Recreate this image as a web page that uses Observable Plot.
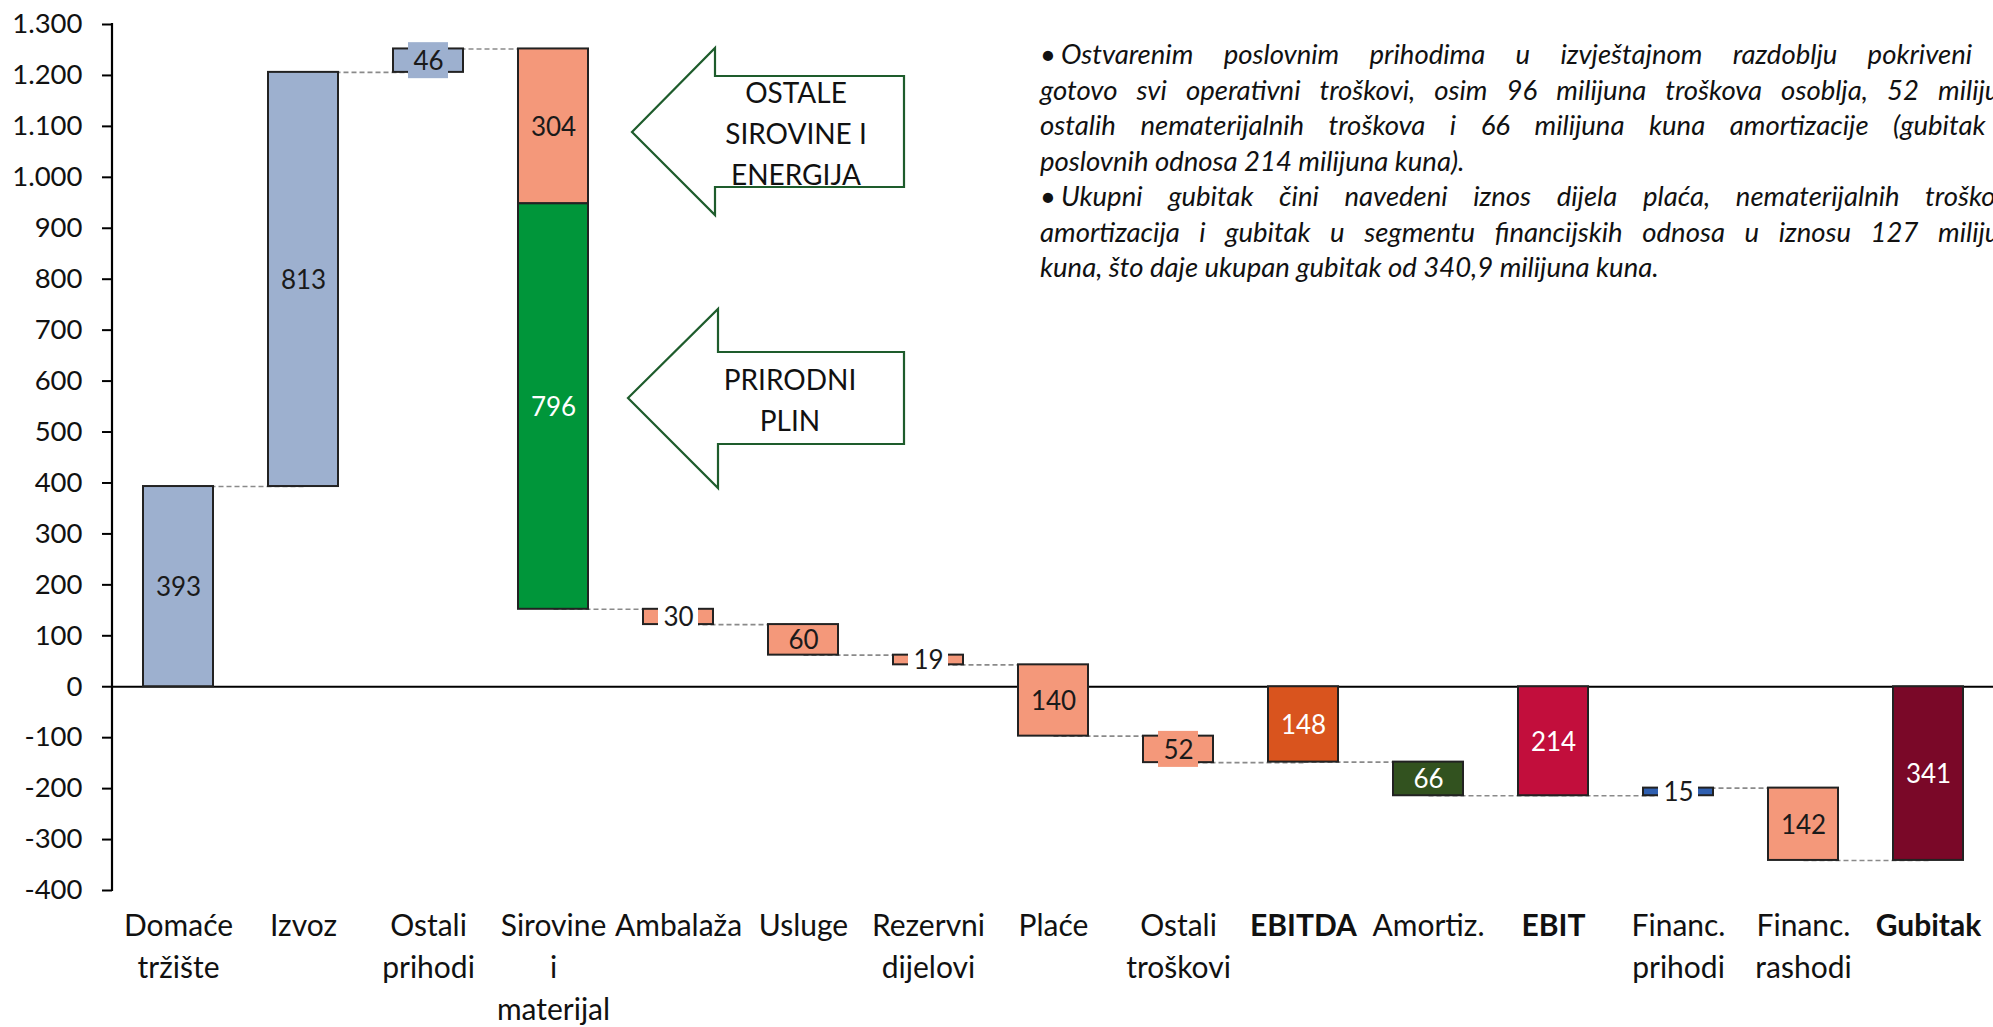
<!DOCTYPE html>
<html>
<head>
<meta charset="utf-8">
<script src="https://cdn.jsdelivr.net/npm/d3@7"></script>
<script src="https://cdn.jsdelivr.net/npm/@observablehq/plot@0.6"></script>
<style>
  html, body { margin: 0; padding: 0; background: #fff; overflow: hidden; }
  #wrap { position: relative; width: 1993px; height: 1027px; overflow: hidden; font-family: Lato, sans-serif; }
  #note { position: absolute; left: 1040px; top: 36px; width: 988px; font-family: Lato, sans-serif; font-style: italic;
          font-size: 27.5px; line-height: 35.5px; color: #111; }
  #note div { text-align: justify; text-align-last: justify; white-space: nowrap; }
  #note div.last { text-align-last: left; }
  #note .bullet { margin-right: 5px; }
  #arrows { position: absolute; left: 0; top: 0; pointer-events: none; }
</style>
</head>
<body>
<div id="wrap">
  <div id="chart"></div>
  <svg id="arrows" width="1993" height="1027"></svg>
  <div id="note"></div>
</div>
<script>
// ---------------- data ----------------
const categories = ["Domaće tržište", "Izvoz", "Ostali prihodi", "Sirovine i materijal", "Ambalaža", "Usluge",
  "Rezervni dijelovi", "Plaće", "Ostali troškovi", "EBITDA", "Amortiz.", "EBIT", "Financ. prihodi",
  "Financ. rashodi", "Gubitak"];
const tickLabels = ["Domaće\ntržište", "Izvoz", "Ostali\nprihodi", "Sirovine\ni\nmaterijal", "Ambalaža", "Usluge",
  "Rezervni\ndijelovi", "Plaće", "Ostali\ntroškovi", "EBITDA", "Amortiz.", "EBIT", "Financ.\nprihodi",
  "Financ.\nrashodi", "Gubitak"];
// change contributed by each step (totals give the running level directly)
const changes = [393, 813, 46, -1100, -30, -60, -19, -140, -52, -148, -66, -214, 15, -142, -341];
const totalCategories = ["EBITDA", "EBIT", "Gubitak"];
// Sirovine i materijal split, top part first
const sirovineParts = ["Ostale sirovine i energija", "Prirodni plin"];
const sirovineValues = [304, 796];
const yTicks = d3.range(-400, 1301, 100);
const noteLines = [
  "• Ostvarenim poslovnim prihodima u izvještajnom razdoblju pokriveni su",
  "gotovo svi operativni troškovi, osim 96 milijuna troškova osoblja, 52 milijuna",
  "ostalih nematerijalnih troškova i 66 milijuna kuna amortizacije  (gubitak iz",
  "poslovnih odnosa 214 milijuna kuna).",
  "• Ukupni gubitak čini navedeni iznos dijela plaća, nematerijalnih troškova,",
  "amortizacija i gubitak u segmentu financijskih odnosa u iznosu 127 milijuna",
  "kuna, što daje ukupan gubitak od 340,9 milijuna kuna."
];
const paragraphEnds = [3, 6];

// ---------------- styles ----------------
const C = { rev: "#9DB0CF", cost: "#F4987A", gas: "#00963A", ebitda: "#D9541E", amort: "#32521F",
            ebit: "#C20E3C", finInc: "#2F5FB0", loss: "#7A0828" };
const fillOf = {
  "Domaće tržište": C.rev, "Izvoz": C.rev, "Ostali prihodi": C.rev, "Ambalaža": C.cost, "Usluge": C.cost,
  "Rezervni dijelovi": C.cost, "Plaće": C.cost, "Ostali troškovi": C.cost, "EBITDA": C.ebitda,
  "Amortiz.": C.amort, "EBIT": C.ebit, "Financ. prihodi": C.finInc, "Financ. rashodi": C.cost, "Gubitak": C.loss,
  "Ostale sirovine i energija": C.cost, "Prirodni plin": C.gas
};
const whiteLabel = new Set(["EBITDA", "Amortiz.", "EBIT", "Gubitak", "Prirodni plin"]);
const boxFill = { "Ostali prihodi": C.rev, "Ambalaža": "#fff", "Rezervni dijelovi": "#fff",
                  "Ostali troškovi": C.cost, "Financ. prihodi": "#fff" };

// ---------------- derived tables ----------------
const bars = [], ends = [];
let level = 0;
categories.forEach((cat, i) => {
  const total = totalCategories.includes(cat);
  const y1 = total ? 0 : level;
  const y2 = total ? changes[i] : level + changes[i];
  level = y2;
  ends.push(y2);
  if (cat === "Sirovine i materijal") {
    let top = y1;
    sirovineParts.forEach((p, j) => {
      bars.push({ cat, key: p, y1: top, y2: top - sirovineValues[j], label: sirovineValues[j] });
      top -= sirovineValues[j];
    });
  } else {
    bars.push({ cat, key: cat, y1, y2, label: Math.abs(changes[i]) });
  }
});
bars.forEach(b => { b.mid = (b.y1 + b.y2) / 2; b.fill = fillOf[b.key]; b.text = whiteLabel.has(b.key) ? "#fff" : "#1a1a1a"; });
const links = categories.slice(0, -1).map((c, i) => ({ x1: c, x2: categories[i + 1], y: ends[i] }));
const boxes = bars.filter(b => b.cat in boxFill).map(b => ({ ...b, boxFill: boxFill[b.cat] }));
const labelOf = Object.fromEntries(categories.map((c, i) => [c, tickLabels[i]]));

const fmt = d => d3.format(",")(d).replace(/,/g, ".").replace("−", "-");

const chart = Plot.plot({
  width: 1993, height: 1027,
  marginLeft: 112, marginRight: 0, marginTop: 24, marginBottom: 137,
  style: { fontFamily: "Lato, sans-serif", background: "#fff", overflow: "visible" },
  x: { domain: categories, paddingInner: 0.44, paddingOuter: 0.22, axis: null },
  y: { domain: [-400, 1300] },
  color: { type: "identity" },
  marks: [
    Plot.axisY({ ticks: yTicks, tickFormat: fmt, tickSize: 10, tickPadding: 20, fontSize: 27.5, stroke: "#000",
                 strokeWidth: 2, fill: "#111", label: null }),
    Plot.link(links, { x1: "x1", x2: "x2", y1: "y", y2: "y", stroke: "#8a8a8a", strokeWidth: 1.6, strokeDasharray: "5,3" }),
    Plot.ruleY([0], { stroke: "#000", strokeWidth: 2.2 }),
    Plot.barY(bars, { x: "cat", y1: "y1", y2: "y2", fill: "fill", stroke: "#222", strokeWidth: 2 }),
    Plot.barY(boxes, { x: "cat", y1: "mid", y2: "mid", fill: "boxFill", insetLeft: 15, insetRight: 15,
                       insetTop: -18, insetBottom: -18 }),
    Plot.text(bars, { x: "cat", y: "mid", text: "label", fill: "text", fontSize: 26, dy: 1 }),
    Plot.text(categories.filter(c => !totalCategories.includes(c)), { x: d => d, text: d => labelOf[d],
      frameAnchor: "bottom", lineAnchor: "top", dy: 16, fontSize: 30, lineHeight: 1.4, fill: "#111" }),
    Plot.text(totalCategories, { x: d => d, text: d => labelOf[d],
      frameAnchor: "bottom", lineAnchor: "top", dy: 16, fontSize: 30, lineHeight: 1.4, fill: "#111", fontWeight: "bold" })
  ]
});
document.getElementById("chart").appendChild(chart);

// y axis line, using the chart's own scales
const xs = chart.scale("x"), ysc = chart.scale("y");
d3.select(chart).append("line")
  .attr("x1", xs.range[0]).attr("x2", xs.range[0])
  .attr("y1", ysc.range[0] + 1).attr("y2", ysc.range[1] - 1)
  .attr("stroke", "#000").attr("stroke-width", 2.2);

// ---------------- annotations ----------------
const arrows = d3.select("#arrows");
const arrowShapes = [
  { tip: [632, 132], neck: 715, headTop: 48, headBot: 215, shaftTop: 76, shaftBot: 187, right: 904,
    text: ["OSTALE", "SIROVINE I", "ENERGIJA"], tx: 796, ty: 103 },
  { tip: [628, 398], neck: 718, headTop: 309, headBot: 488, shaftTop: 352, shaftBot: 444, right: 904,
    text: ["PRIRODNI", "PLIN"], tx: 790, ty: 390 }
];
arrowShapes.forEach(a => {
  const pts = [a.tip, [a.neck, a.headTop], [a.neck, a.shaftTop], [a.right, a.shaftTop], [a.right, a.shaftBot],
               [a.neck, a.shaftBot], [a.neck, a.headBot]];
  arrows.append("polygon").attr("points", pts.map(p => p.join(",")).join(" "))
    .attr("fill", "#fff").attr("stroke", "#1E5C2C").attr("stroke-width", 2.2);
  a.text.forEach((t, k) => arrows.append("text").attr("x", a.tx).attr("y", a.ty + k * 41)
    .attr("text-anchor", "middle").attr("font-family", "Lato, sans-serif").attr("font-size", 28)
    .attr("fill", "#111").text(t));
});

const note = d3.select("#note");
noteLines.forEach((l, i) => {
  const div = note.append("div").attr("class", paragraphEnds.includes(i) ? "last" : null);
  if (l.startsWith("• ")) { div.append("span").attr("class", "bullet").text("•"); div.append("span").text(l.slice(2)); }
  else div.text(l);
});
</script>
</body>
</html>
